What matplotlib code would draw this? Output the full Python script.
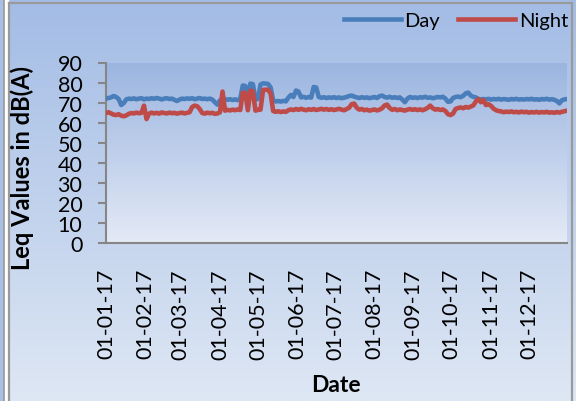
import numpy as np
import pandas as pd
import matplotlib
matplotlib.use('Agg')
import matplotlib.pyplot as plt
import matplotlib.dates as mdates
from matplotlib.lines import Line2D

plt.rcParams['font.family'] = ['Lato', 'DejaVu Sans']

# Messwerte alle 2 Tage, 01.01.2017 - 31.12.2017
dates = pd.date_range('2017-01-01', periods=183, freq='2D')

day_leq = [
    72.0, 72.3, 72.6, 73.3, 72.8, 71.8, 68.8, 69.8, 71.6, 72.0,
    71.8, 72.1, 71.7, 72.0, 72.2, 71.6, 72.0, 71.8, 72.2, 71.9,
    72.3, 72.0, 71.6, 72.0, 72.2, 71.8, 72.0, 71.4, 70.8, 71.5,
    72.0, 71.8, 72.1, 71.9, 72.2, 71.7, 72.0, 72.3, 71.8, 72.0,
    71.7, 72.0, 71.5, 70.2, 69.0, 71.2, 71.5, 71.8, 71.4, 71.7,
    71.3, 71.6, 71.2, 72.0, 78.5, 78.3, 71.6, 79.5, 79.2, 71.5,
    71.8, 79.0, 79.6, 79.5, 79.3, 77.5, 71.0, 70.6, 70.8, 70.5,
    70.9, 70.6, 72.5, 73.8, 72.8, 76.0, 75.5, 72.6, 72.9, 72.4,
    72.8, 72.5, 77.8, 77.5, 72.8, 72.4, 72.7, 72.3, 72.6, 72.4,
    72.7, 72.3, 72.6, 72.2, 72.5, 72.8, 73.3, 73.5, 73.0, 72.6,
    72.3, 72.7, 72.4, 72.6, 72.2, 72.5, 72.8, 72.3, 73.2, 73.5,
    72.8, 72.5, 72.9, 72.4, 72.7, 72.3, 72.6, 71.5, 70.2, 72.0,
    72.8, 72.4, 72.6, 72.3, 72.7, 72.5, 72.9, 72.4, 72.6, 72.2,
    72.5, 72.8, 72.6, 72.9, 72.0, 70.4, 70.6, 72.3, 72.8, 73.0,
    72.7, 73.4, 74.6, 75.0, 73.5, 72.9, 72.6, 71.8, 71.6, 71.8,
    71.6, 71.9, 71.5, 71.8, 71.6, 71.9, 71.5, 71.8, 71.6, 71.4,
    71.8, 71.6, 71.9, 71.5, 71.7, 71.5, 71.8, 71.6, 71.9, 71.5,
    71.7, 71.4, 71.8, 71.6, 71.9, 71.5, 71.7, 71.4, 70.8, 69.6,
    71.2, 71.6, 71.8,
]

night_leq = [
    64.8, 65.2, 64.6, 64.0, 63.8, 64.2, 63.5, 63.2, 63.6, 64.4,
    64.8, 64.6, 65.0, 64.7, 64.9, 68.5, 61.8, 64.5, 65.0, 64.6,
    64.9, 64.5, 65.1, 64.8, 64.6, 65.0, 64.7, 64.9, 64.5, 64.8,
    65.0, 64.6, 64.9, 65.2, 67.8, 68.5, 68.2, 66.8, 64.8, 64.5,
    65.0, 64.7, 64.9, 64.4, 64.6, 65.2, 75.5, 66.0, 66.4, 66.1,
    66.5, 66.2, 66.6, 66.3, 75.0, 74.8, 66.2, 76.0, 75.5, 66.0,
    66.4, 66.5, 76.3, 76.5, 76.4, 74.5, 65.8, 65.4, 65.7, 65.3,
    65.6, 65.4, 66.2, 66.6, 66.3, 66.8, 66.4, 66.9, 66.5, 66.2,
    66.7, 66.4, 66.8, 66.3, 66.6, 66.9, 66.5, 66.8, 66.4, 66.7,
    66.3, 66.6, 66.9, 66.5, 66.2, 66.8, 67.5, 69.2, 69.5, 67.4,
    66.5, 66.8, 66.2, 66.5, 66.0, 66.3, 66.6, 66.1, 66.5, 67.2,
    68.6, 69.0, 67.3, 66.4, 66.8, 66.2, 66.6, 66.3, 66.0, 66.5,
    66.8, 66.4, 66.7, 66.3, 66.6, 66.2, 66.7, 67.4, 68.5, 67.2,
    66.5, 66.8, 66.3, 66.6, 65.8, 64.2, 63.8, 64.5, 66.8, 67.3,
    67.6, 67.2, 67.8, 67.5, 68.0, 68.6, 70.5, 71.8, 70.2, 71.3,
    68.8, 69.2, 68.4, 67.0, 66.2, 65.8, 65.6, 65.2, 65.5, 65.3,
    65.6, 65.2, 65.4, 65.1, 65.5, 65.2, 65.4, 65.0, 65.3, 65.1,
    65.4, 65.0, 65.3, 65.1, 65.4, 65.0, 65.2, 64.9, 65.3, 65.0,
    65.4, 65.7, 66.0,
]

y_ticks = list(range(0, 91, 10))

W, H = 576, 402
fig = plt.figure(figsize=(W / 100, H / 100), dpi=100)

# Hintergrund mit Farbverlauf (wie Excel)
bg = fig.add_axes([0, 0, 1, 1], zorder=-10)
grad = np.linspace(0, 1, 256).reshape(-1, 1)
top_c = np.array([163, 188, 229]) / 255
bot_c = np.array([222, 231, 244]) / 255
bg.imshow(top_c + grad[:, :, None] * (bot_c - top_c), aspect='auto', extent=[0, 1, 0, 1])
bg.set_xlim(0, 1)
bg.set_ylim(0, 1)
bg.axis('off')

# Rahmen
bg.add_patch(plt.Rectangle((0, 0), 7.5 / W, 1, color='#ffffff', zorder=2))
bg.add_patch(plt.Rectangle((0, 0), 3 / W, 1, color='#a8c0e6', zorder=2))
frame_c = '#9a9a9a'
bg.add_line(Line2D([3.5 / W, 3.5 / W], [0, 1], color=frame_c, lw=1.2, zorder=3))
bg.add_line(Line2D([9 / W, 9 / W], [0, 1 - 4 / H], color=frame_c, lw=1.6, zorder=3))
bg.add_line(Line2D([9 / W, 571.5 / W], [1 - 4 / H, 1 - 4 / H], color=frame_c, lw=1.6, zorder=3))
bg.add_line(Line2D([571.5 / W, 571.5 / W], [0, 1 - 4 / H], color=frame_c, lw=1.6, zorder=3))

ax = fig.add_axes([106 / W, 1 - 244 / H, 461 / W, (244 - 63.5) / H])
ax.set_facecolor('none')
p_top = np.array([155, 181, 224]) / 255
p_bot = np.array([228, 234, 246]) / 255
ax.imshow(p_top + grad[:, :, None] * (p_bot - p_top), aspect='auto',
          extent=[0, 1, 0, 1], transform=ax.transAxes, zorder=0)

ax.plot(dates, day_leq, color='#4A7EBB', lw=3.3, label='Day', zorder=3,
        solid_joinstyle='round')
ax.plot(dates, night_leq, color='#BE4B48', lw=3.3, label='Night', zorder=4,
        solid_joinstyle='round')

ax.set_xlim(pd.Timestamp('2017-01-01'), pd.Timestamp('2017-12-31'))
ax.set_ylim(0, 90)
ax.set_yticks(y_ticks)
ax.xaxis.set_major_locator(mdates.MonthLocator())
ax.xaxis.set_major_formatter(mdates.DateFormatter('%d-%m-%y'))

for s in ['top', 'right']:
    ax.spines[s].set_visible(False)
for s in ['left', 'bottom']:
    ax.spines[s].set_color('#868686')
    ax.spines[s].set_linewidth(1.5)

ax.tick_params(axis='y', length=6, width=1.5, color='#868686', pad=11,
               labelsize=15.5)
ax.tick_params(axis='x', length=0, pad=18, labelsize=15.5, labelrotation=90)

fig.text(22 / W, 1 - 168 / H, 'Leq Values in dB(A)', rotation=90,
         fontsize=17, fontweight='bold', ha='center', va='center')
fig.text(336 / W, 1 - 386 / H, 'Date', fontsize=16.5, fontweight='bold',
         ha='center', va='center')

fig.legend(loc='upper right', bbox_to_anchor=(568 / W, 1 - 13 / H), ncol=2,
           frameon=False, fontsize=14.5, handlelength=2.8, handletextpad=0.2,
           columnspacing=0.9, borderaxespad=0, borderpad=0)

fig.savefig('out.png', dpi=100)
